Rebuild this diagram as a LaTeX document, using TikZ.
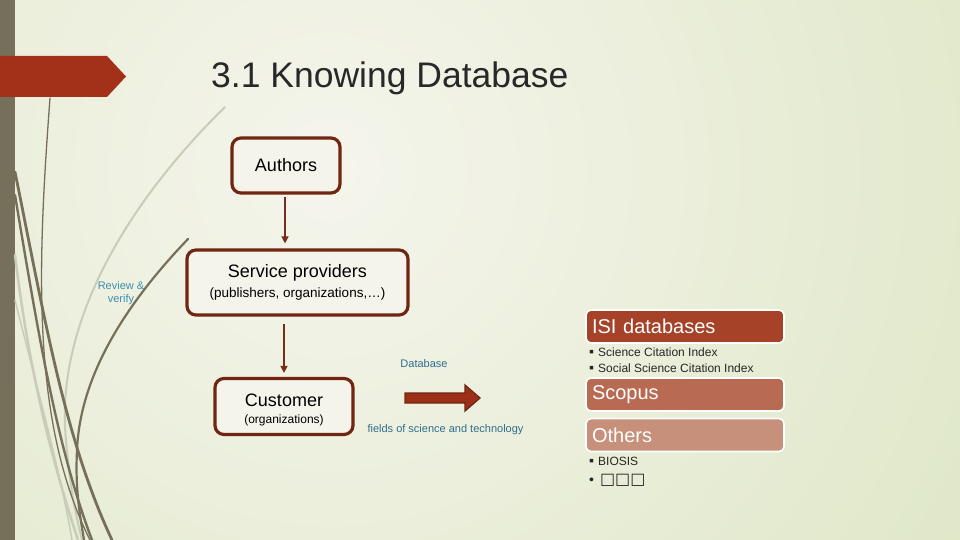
\documentclass[tikz,border=0pt]{standalone}
\usepackage{fontspec}
\setmainfont{Liberation Sans}
\newfontfamily\boxglyphs{DejaVu Sans}
\usetikzlibrary{arrows.meta}
\definecolor{bgA}{RGB}{245,245,236}
\definecolor{bgB}{RGB}{221,230,196}
\definecolor{barc}{RGB}{118,112,90}
\definecolor{bannerc}{RGB}{163,48,24}
\definecolor{boxline}{RGB}{112,38,18}
\definecolor{boxfill}{RGB}{245,244,235}
\definecolor{arrc}{RGB}{122,44,26}
\definecolor{titlec}{RGB}{40,40,40}
\definecolor{labc}{RGB}{47,110,138}
\definecolor{revc}{RGB}{58,143,176}
\definecolor{isic}{RGB}{166,66,40}
\definecolor{scopc}{RGB}{185,106,82}
\definecolor{othc}{RGB}{199,144,122}
\definecolor{lightsw}{RGB}{200,204,184}
\definecolor{bigarr}{RGB}{156,47,23}
\tikzset{
  flowbox/.style={draw=boxline, line width=3.2pt, rounded corners=9pt, fill=boxfill, align=center, inner sep=0pt},
  flowarrow/.style={draw=arrc, line width=1.4pt, -{Triangle[width=7pt,length=7pt]}},
  dbbox/.style={draw=white, line width=1.6pt, rounded corners=5pt, text=white, align=left, inner xsep=6pt, inner ysep=0pt, minimum height=33pt, text width=186pt, font=\fontsize{20}{22}\selectfont},
  smalllab/.style={text=labc, font=\fontsize{11}{13}\selectfont, inner sep=0pt},
  bullettext/.style={anchor=west, inner sep=0pt, font=\fontsize{12}{14}\selectfont, text=black!85},
  swdark/.style={draw=barc, line cap=round},
  swlight/.style={draw=lightsw, line cap=round}
}
\begin{document}
\begin{tikzpicture}[x=1pt,y=-1pt]
\useasboundingbox (0,0) rectangle (960,540);
% background
\begin{scope}
\clip (0,0) rectangle (960,540);
\shade[inner color=bgA, outer color=bgB] (330,170) circle (820);
\end{scope}
\fill[barc] (0,0) rectangle (15,540);
% swooshes
\draw[swlight, line width=2pt] (225,107) .. controls (120,210) and (55,330) .. (66,440) .. controls (70,490) and (76,515) .. (82,540);
\draw[swlight, line width=2.5pt] (15,255) .. controls (30,380) and (55,470) .. (78,540);
\draw[swlight, line width=1.5pt] (15,300) .. controls (40,400) and (60,470) .. (72,540);
\draw[swdark, line width=1.3pt] (50,98) .. controls (38,260) and (30,420) .. (90,540);
\draw[swdark, line width=2.8pt] (15,172) .. controls (45,320) and (65,440) .. (112,540);
\draw[swdark, line width=2.4pt] (15,195) .. controls (40,345) and (58,450) .. (92,540);
\draw[swdark, line width=2.2pt] (188,239) .. controls (120,310) and (80,380) .. (77,450) .. controls (75,490) and (80,515) .. (84,540);
% banner
\fill[bannerc] (0,56) -- (107,56) -- (126,76.5) -- (107,97) -- (0,97) -- cycle;
% title
\node[anchor=west, text=titlec, inner sep=0pt, font=\fontsize{35.5}{40}\selectfont] (title) at (211,78.5) {3.1 Knowing Database};
% flow boxes
\node[flowbox, minimum width=108pt, minimum height=55pt, font=\fontsize{18}{20}\selectfont] (authors) at (286,165.5) {Authors};
\node[flowbox, minimum width=221pt, minimum height=65pt] (service) at (297.5,282.5)
  {{\fontsize{18}{20}\selectfont Service providers}\\[5pt]{\fontsize{13.5}{15}\selectfont (publishers, organizations,…)}};
\node[flowbox, minimum width=138pt, minimum height=56pt] (customer) at (284,406.5)
  {{\fontsize{18}{20}\selectfont\rule{0pt}{20pt}Customer}\\[5pt]{\fontsize{12}{14}\selectfont (organizations)}};
\draw[flowarrow, shorten <=2pt, shorten >=5pt] ([xshift=-1pt]authors.south) -- ([xshift=-1pt]authors.south |- service.north);
\draw[flowarrow, shorten <=7pt, shorten >=4pt] (customer.north |- service.south) -- (customer.north);
% review label
\node[text=revc, align=center, inner sep=0pt, font=\fontsize{11}{13}\selectfont] (review) at (121,293.5) {Review \&\\verify};
% big arrow
\draw[draw=boxline, fill=bigarr, line width=1.3pt] (405,393) -- (465,393) -- (465,385) -- (480,398) -- (465,411) -- (465,403) -- (405,403) -- cycle;
\coordinate (bigarrow) at (442,398);
\node[smalllab] (dblab) at (424,364) {Database};
\node[smalllab] (fieldslab) at (445.5,430) {fields of science and technology};
% right column
\node[dbbox, fill=isic] (isi) at (685,326.5) {ISI databases};
\node[bullettext] (b1) at (589,352) {\fontsize{14}{14}\selectfont ▪\hspace{4pt}\fontsize{12}{14}\selectfont Science Citation Index};
\node[bullettext] (b2) at (589,368) {\fontsize{14}{14}\selectfont ▪\hspace{4pt}\fontsize{12}{14}\selectfont Social Science Citation Index};
\node[bullettext] (b3) at (589,461) {\fontsize{14}{14}\selectfont ▪\hspace{4pt}\fontsize{12}{14}\selectfont BIOSIS};
\node[dbbox, fill=scopc] (scopus) at (685,394.5) {Scopus};
\node[dbbox, fill=othc] (others) at (685,435) {Others};
\node[bullettext, font=\fontsize{14}{16}\selectfont] (b4) at (589,480) {•\hspace{6pt}{\boxglyphs\fontsize{16}{18}\selectfont □□□}};
\end{tikzpicture}
\end{document}
